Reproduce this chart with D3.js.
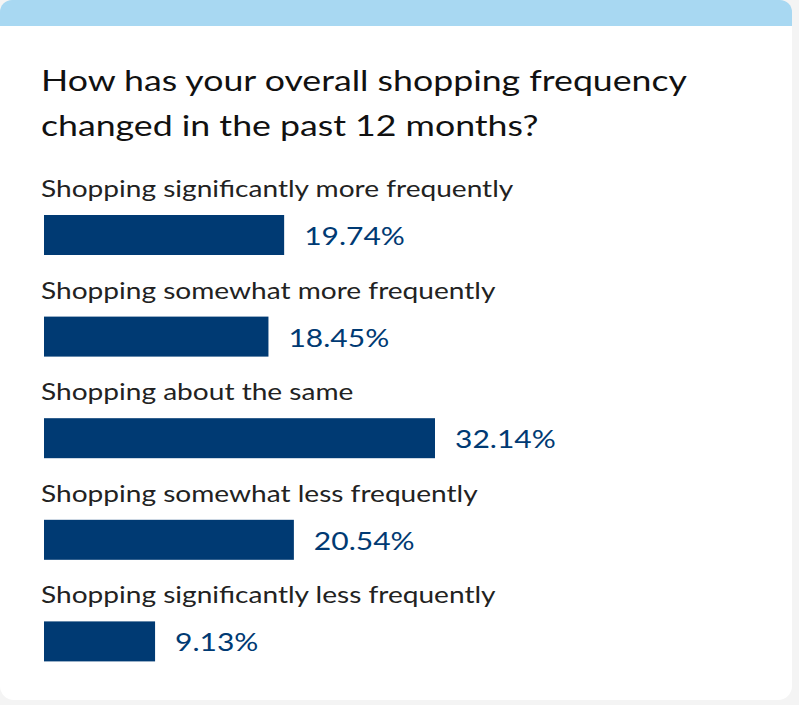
<!DOCTYPE html>
<html><head><meta charset="utf-8">
<script src="https://cdn.jsdelivr.net/npm/d3@7"></script>
<style>body{margin:0;background:#f4f4f4;}svg{display:block;}</style>
</head><body>
<script>
var categories = ["Shopping significantly more frequently","Shopping somewhat more frequently","Shopping about the same","Shopping somewhat less frequently","Shopping significantly less frequently"];
var values = [19.74, 18.45, 32.14, 20.54, 9.13];
var titleLines = ["How has your overall shopping frequency","changed in the past 12 months?"];

var svg = d3.select("body").append("svg").attr("width", 799).attr("height", 705);
svg.append("rect").attr("x", 0).attr("y", 0).attr("width", 792).attr("height", 60).attr("rx", 12).attr("fill", "#a8d8f2");
svg.append("rect").attr("x", 0).attr("y", 26).attr("width", 792).attr("height", 674).attr("rx", 14).attr("fill", "#fff");
svg.append("rect").attr("x", 0).attr("y", 26).attr("width", 792).attr("height", 30).attr("fill", "#fff");

// stretch text to the wider face used in the reference
function fit(sel, ratio) {
  sel.each(function() {
    var w = this.getComputedTextLength();
    d3.select(this).attr("textLength", w * ratio).attr("lengthAdjust", "spacingAndGlyphs");
  });
}

var t = svg.selectAll("text.title").data(titleLines).enter().append("text")
  .attr("x", 41).attr("y", function(d, i){ return 91 + i * 45; })
  .attr("font-family", "Lato, sans-serif").attr("font-size", 29).attr("fill", "#111")
  .text(function(d){ return d; });
fit(t, 1.23);

var x = d3.scaleLinear().domain([0, 32.14]).range([0, 391]);
var y = d3.scaleBand().domain(categories).range([172, 680]);

var g = svg.selectAll("g.row").data(categories).enter().append("g")
  .attr("transform", function(d){ return "translate(0," + y(d) + ")"; });
var lab = g.append("text").attr("x", 41).attr("y", 25)
  .attr("font-family", "Lato, sans-serif").attr("font-size", 23).attr("fill", "#222")
  .text(function(d){ return d; });
fit(lab, 1.22);
g.append("rect").attr("x", 44).attr("y", 43).attr("height", 40)
  .attr("width", function(d, i){ return x(values[i]); }).attr("fill", "#003a73");
var val = g.append("text").attr("x", function(d, i){ return 44 + x(values[i]) + 20; }).attr("y", 73)
  .attr("font-family", "Lato, sans-serif").attr("font-size", 25).attr("fill", "#003a73")
  .text(function(d, i){ return values[i].toFixed(2) + "%"; });
fit(val, 1.2);
</script>
</body></html>
